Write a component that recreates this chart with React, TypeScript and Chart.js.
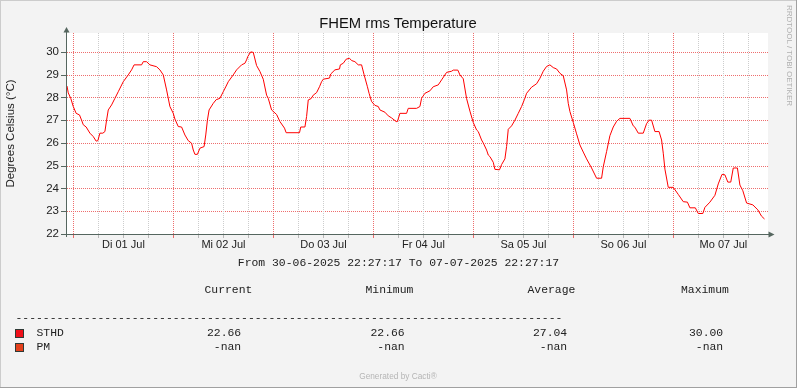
import React, { useEffect, useRef } from 'react';
import { Chart, registerables } from 'chart.js';

Chart.register(...registerables);

// ---- data (hours since 30-06-2025 22:27:17, °C) ----
const hours = [
  0, 0.3, 0.9, 1.5, 2.2, 3.0, 3.5, 3.9, 4.6, 5.5, 6.3, 7.0, 7.4, 7.9, 8.6, 9.1, 9.5, 9.9, 10.7, 11.5,
  12.3, 13.5, 14.7, 15.5, 16.1, 17.9, 18.3, 19.1, 19.9, 21.5, 22.3, 23.1, 23.9, 24.7, 25.5, 25.9, 26.7, 27.5, 28.3, 29.1,
  29.9, 30.3, 30.7, 31.3, 31.9, 32.9, 33.3, 33.7, 34.1, 35.1, 35.8, 36.7, 37.5, 38.2, 38.7, 39.9, 40.7, 41.9, 42.7, 43.1,
  43.4, 44.1, 44.7, 45.5, 46.3, 47.1, 47.9, 48.3, 49.1, 50.3, 51.1, 52.2, 52.6, 55.8, 56.1, 57.1, 57.5, 57.9, 58.6, 59.1,
  59.9, 60.6, 61.1, 61.5, 63.0, 63.3, 64.3, 65.4, 65.6, 66.3, 67.0, 67.8, 68.3, 69.1, 69.9, 70.7, 71.3, 72.1, 72.5, 73.1,
  73.9, 74.7, 75.1, 76.3, 77.1, 77.9, 79.0, 79.3, 79.9, 81.5, 81.9, 83.9, 84.7, 85.1, 85.9, 87.1, 87.9, 89.1, 89.9, 91.1,
  92.3, 92.7, 93.8, 94.3, 95.1, 95.9, 96.7, 97.5, 98.3, 98.7, 99.5, 99.9, 100.7, 101.1, 101.5, 102.3, 102.7, 103.8, 104.3, 105.1,
  105.5, 105.9, 106.7, 107.5, 108.3, 109.1, 109.8, 110.3, 111.5, 112.7, 113.5, 114.3, 115.1, 115.9, 116.7, 117.5, 118.3, 119.1, 119.9, 120.3,
  120.7, 121.5, 122.3, 123.1, 123.9, 124.7, 125.9, 127.1, 128.3, 128.7, 129.5, 130.3, 131.1, 131.9, 132.7, 135.1, 135.9, 136.3, 137.1, 138.3,
  139.1, 139.7, 140.3, 141.1, 142.1, 142.7, 143.1, 143.5, 144.3, 145.5, 146.7, 147.9, 148.9, 149.5, 150.8, 151.5, 152.6, 153.1, 154.3, 155.5,
  156.3, 157.2, 157.9, 158.6, 159.3, 159.9, 160.9, 161.5, 162.2, 163.1, 164.6, 165.8, 166.7, 167.4,
];
const temps = [
  28.5, 28.2, 27.96, 27.6, 27.3, 27.23, 27.0, 26.8, 26.7, 26.43, 26.28, 26.08, 26.1, 26.43, 26.43, 26.5, 27.0, 27.45, 27.67, 27.96,
  28.25, 28.69, 28.99, 29.21, 29.43, 29.43, 29.57, 29.57, 29.43, 29.35, 29.21, 28.99, 28.33, 27.6, 27.3, 27.05, 26.72, 26.7, 26.35, 26.1,
  25.99, 25.69, 25.5, 25.5, 25.77, 25.84, 26.35, 27.0, 27.45, 27.74, 27.9, 27.96, 28.25, 28.5, 28.69, 28.99, 29.21, 29.43, 29.5, 29.65,
  29.8, 30.0, 29.98, 29.4, 29.14, 28.8, 28.1, 27.96, 27.45, 27.25, 26.94, 26.65, 26.45, 26.45, 26.7, 26.7, 27.16, 27.89, 27.95, 28.1,
  28.21, 28.47, 28.69, 28.8, 28.85, 29.03, 29.21, 29.25, 29.43, 29.5, 29.68, 29.72, 29.62, 29.57, 29.43, 29.43, 29.0, 28.47, 28.18, 27.82,
  27.65, 27.6, 27.45, 27.35, 27.19, 27.1, 26.94, 26.94, 27.3, 27.3, 27.52, 27.52, 27.6, 27.96, 28.18, 28.29, 28.47, 28.55, 28.77, 29.1,
  29.15, 29.2, 29.2, 28.99, 28.82, 27.95, 27.4, 26.9, 26.57, 26.5, 26.13, 26.0, 25.69, 25.47, 25.4, 25.15, 24.84, 24.82, 25.05, 25.3,
  25.84, 26.6, 26.75, 27.0, 27.3, 27.6, 27.92, 28.18, 28.45, 28.6, 28.84, 29.15, 29.36, 29.43, 29.31, 29.25, 29.06, 28.95, 28.33, 27.74,
  27.38, 26.9, 26.4, 25.91, 25.6, 25.3, 24.9, 24.45, 24.45, 24.95, 25.62, 26.32, 26.7, 26.95, 27.08, 27.08, 26.75, 26.69, 26.43, 26.43,
  26.85, 27.0, 27.0, 26.5, 26.5, 26.13, 25.55, 24.85, 24.05, 24.05, 23.74, 23.42, 23.4, 23.15, 23.15, 22.9, 22.9, 23.17, 23.4, 23.7,
  24.2, 24.62, 24.6, 24.28, 24.28, 24.9, 24.9, 24.15, 23.9, 23.36, 23.28, 23.06, 22.78, 22.66,
];

const dayLabels = ['Di 01 Jul', 'Mi 02 Jul', 'Do 03 Jul', 'Fr 04 Jul', 'Sa 05 Jul', 'So 06 Jul', 'Mo 07 Jul'];
const firstMidnightHour = 1.5453; // 00:00 of 01 Jul relative to start
const xTickHours = Array.from({ length: 28 }, (_, i) => firstMidnightHour + 6 * i);
const yTickValues = [22, 22.5, 23, 23.5, 24, 24.5, 25, 25.5, 26, 26.5, 27, 27.5, 28, 28.5, 29, 29.5, 30, 30.5];
const X_MIN = 0;
const X_MAX = 168;
const Y_MIN = 22;
const Y_MAX = 30.83;

const titleText = 'FHEM rms Temperature';
const yAxisTitle = 'Degrees Celsius (°C)';
const periodText = 'From 30-06-2025 22:27:17 To 07-07-2025 22:27:17';
const columnHeaders = ['Current', 'Minimum', 'Average', 'Maximum'];
const seriesNames = ['STHD', 'PM'];
const seriesColors = ['#f0101a', '#e4401c'];
const seriesStats = [
  ['22.66', '22.66', '27.04', '30.00'],
  ['-nan', '-nan', '-nan', '-nan'],
];

const MAJOR = '#ee6e6e';
const MINOR = '#cdcdcd';
const MAJOR_TICK = '#e86a6a';
const MINOR_TICK = '#b8b8b8';
const AXIS = '#55665f';
const CLEAR = 'rgba(0,0,0,0)';

const SANS = "'Liberation Sans', Arial, sans-serif";
const MONO = "'Liberation Mono', 'DejaVu Sans Mono', monospace";

const isMajorX = (i: number) => i % 4 === 0;
const isMajorY = (v: number) => Number.isInteger(v);

const framePlugin = {
  id: 'frame',
  beforeDraw(chart: any) {
    const { ctx, chartArea: a, width, height } = chart;
    ctx.save();
    ctx.fillStyle = '#f3f3f3';
    ctx.fillRect(0, 0, width, height);
    ctx.fillStyle = '#ffffff';
    ctx.fillRect(a.left, a.top, a.right - a.left + 1, a.bottom - a.top);
    ctx.fillStyle = '#cccccc';
    ctx.fillRect(0, 0, width, 1);
    ctx.fillRect(0, 0, 1, height);
    ctx.fillStyle = '#a0a0a0';
    ctx.fillRect(0, height - 1, width, 1);
    ctx.fillRect(width - 1, 0, 1, height);
    ctx.restore();
  },
  beforeDatasetsDraw(chart: any) {
    const { ctx, chartArea: a, scales } = chart;
    const xs = scales.x;
    const ys = scales.y;
    const L = Math.round(a.left);
    const R = Math.round(a.right);
    const T = Math.round(a.top);
    const B = Math.round(a.bottom);
    ctx.save();
    [false, true].forEach((major) => {
      ctx.fillStyle = major ? MAJOR : MINOR;
      ys.ticks.forEach((t: any) => {
        if (isMajorY(t.value) !== major) return;
        const py = Math.round(ys.getPixelForValue(t.value));
        if (py >= B) return;
        for (let x = L; x <= R; x += 2) ctx.fillRect(x, py, 1, 1);
      });
    });
    xs.ticks.forEach((t: any, i: number) => {
      const major = isMajorX(i);
      const px = Math.round(xs.getPixelForValue(t.value));
      ctx.fillStyle = major ? MAJOR : MINOR;
      for (let y = T; y < B; y += 2) ctx.fillRect(px, y, 1, 1);
      ctx.fillStyle = major ? MAJOR_TICK : MINOR_TICK;
      ctx.fillRect(px, B + 1, 1, 3);
    });
    ctx.fillStyle = AXIS;
    ys.ticks.forEach((t: any) => {
      if (!isMajorY(t.value)) return;
      const py = Math.round(ys.getPixelForValue(t.value));
      ctx.fillRect(L - 6, py, 5, 1);
    });
    ctx.restore();
  },
  afterDatasetsDraw(chart: any) {
    const { ctx, chartArea: a } = chart;
    ctx.save();
    ctx.fillStyle = AXIS;
    const xc = Math.round(a.left) - 1;
    const yb = Math.round(a.bottom);
    ctx.fillRect(xc, a.top - 1, 1, yb + 3 - (a.top - 1));
    ctx.beginPath();
    ctx.moveTo(xc + 0.5, a.top - 6);
    ctx.lineTo(xc + 3.5, a.top - 0.5);
    ctx.lineTo(xc - 2.5, a.top - 0.5);
    ctx.closePath();
    ctx.fill();
    ctx.fillRect(a.left - 5, yb, a.right + 2 - (a.left - 5), 1);
    ctx.beginPath();
    ctx.moveTo(a.right + 7.5, yb + 0.5);
    ctx.lineTo(a.right + 1.5, yb - 2.5);
    ctx.lineTo(a.right + 1.5, yb + 3.5);
    ctx.closePath();
    ctx.fill();
    ctx.restore();
  },
};

function Txt(props: { left?: number; baseline: number; size: number; mono?: boolean; color?: string; center?: boolean; children: any }) {
  const { left = 0, baseline, size, mono, color = '#222', center, children } = props;
  const ratio = mono ? 0.7665 : 0.8465;
  const style: any = {
    position: 'absolute',
    top: baseline - ratio * size,
    fontFamily: mono ? MONO : SANS,
    fontSize: size,
    lineHeight: `${size}px`,
    whiteSpace: 'pre',
    color,
  };
  if (center) {
    style.left = left - 400;
    style.width = 800;
    style.textAlign = 'center';
  } else {
    style.left = left;
  }
  return <div style={style}>{children}</div>;
}

export default function App() {
  const canvasRef = useRef<HTMLCanvasElement | null>(null);

  useEffect(() => {
    document.body.style.margin = '0';
    const canvas = canvasRef.current;
    if (!canvas) return;
    Chart.defaults.font.family = SANS;
    const chart = new Chart(canvas, {
      type: 'line',
      data: {
        datasets: [
          {
            label: 'STHD',
            data: hours.map((h, i) => ({ x: h, y: temps[i] })),
            borderColor: '#ff0000',
            borderWidth: 1,
            pointRadius: 0,
            tension: 0,
            fill: false,
          },
        ],
      },
      options: {
        animation: false,
        responsive: false,
        maintainAspectRatio: false,
        devicePixelRatio: 1,
        events: [],
        layout: { padding: { top: 33, right: 30, left: 0, bottom: 134 } },
        plugins: { legend: { display: false }, tooltip: { enabled: false }, title: { display: false } },
        scales: {
          x: {
            type: 'linear',
            min: X_MIN,
            max: X_MAX,
            afterBuildTicks: (scale: any) => {
              scale.ticks = xTickHours.map((v) => ({ value: v }));
            },
            afterFit: (scale: any) => {
              scale.height = 20;
            },
            ticks: {
              autoSkip: false,
              maxRotation: 0,
              minRotation: 0,
              padding: 1,
              color: '#222',
              font: { family: SANS, size: 11 },
              callback: (_v: any, i: number) => (i % 4 === 2 ? dayLabels[(i - 2) / 4] ?? '' : ''),
            },
            grid: { color: CLEAR, tickColor: CLEAR, tickLength: 3, lineWidth: 1 },
            border: { display: false },
          },
          y: {
            type: 'linear',
            min: Y_MIN,
            max: Y_MAX,
            afterBuildTicks: (scale: any) => {
              scale.ticks = yTickValues.map((v) => ({ value: v }));
            },
            afterFit: (scale: any) => {
              scale.width = 67;
            },
            ticks: {
              padding: 3,
              color: '#222',
              font: { family: SANS, size: 11.5 },
              callback: (v: any) => (Number.isInteger(v) ? String(v) : ''),
            },
            grid: { color: CLEAR, tickColor: CLEAR, tickLength: 5, lineWidth: 1 },
            border: { display: false },
            title: {
              display: true,
              text: yAxisTitle,
              color: '#222',
              font: { family: SANS, size: 11.5 },
              padding: { top: 4, bottom: 0 },
            },
          },
        },
      },
      plugins: [framePlugin],
    } as any);
    return () => chart.destroy();
  }, []);

  const headerLefts = [204.5, 365.5, 527.5, 681];
  const valueLefts = [207, 370.5, 533, 689];
  const rowBaselines = [336.5, 350.7];

  return (
    <div style={{ position: 'relative', width: 797, height: 388, overflow: 'hidden' }}>
      <canvas ref={canvasRef} width={797} height={388} style={{ position: 'absolute', left: 0, top: 0, width: 797, height: 388 }} />
      <Txt left={398} center baseline={28.3} size={14.8} color="#111">{titleText}</Txt>
      <Txt left={398.5} center baseline={266.5} size={11.4} mono>{periodText}</Txt>
      {columnHeaders.map((h, i) => (
        <Txt key={h} left={headerLefts[i]} baseline={294} size={11.4} mono>{h}</Txt>
      ))}
      <Txt left={15.5} baseline={321.6} size={11.4} mono>{'-'.repeat(80)}</Txt>
      {seriesNames.map((name, r) => (
        <React.Fragment key={name}>
          <div
            style={{
              position: 'absolute',
              left: 15,
              top: rowBaselines[r] - 7.5,
              width: 7,
              height: 7,
              background: seriesColors[r],
              border: '1px solid #2f3a36',
            }}
          />
          <Txt left={36.5} baseline={rowBaselines[r]} size={11.4} mono>{name}</Txt>
          {seriesStats[r].map((v, c) => (
            <Txt key={c} left={valueLefts[c] + (v.length < 5 ? 6.84 * (5 - v.length) : 0)} baseline={rowBaselines[r]} size={11.4} mono>{v}</Txt>
          ))}
        </React.Fragment>
      ))}
      <Txt left={398} center baseline={379} size={8.3} color="#b5b5b5">Generated by Cacti®</Txt>
      <div
        style={{
          position: 'absolute',
          left: 784.5,
          top: 5,
          writingMode: 'vertical-rl',
          fontFamily: SANS,
          fontSize: 8,
          lineHeight: '8px',
          color: '#b0b0b0',
          whiteSpace: 'pre',
        }}
      >
        RRDTOOL / TOBI OETIKER
      </div>
    </div>
  );
}
